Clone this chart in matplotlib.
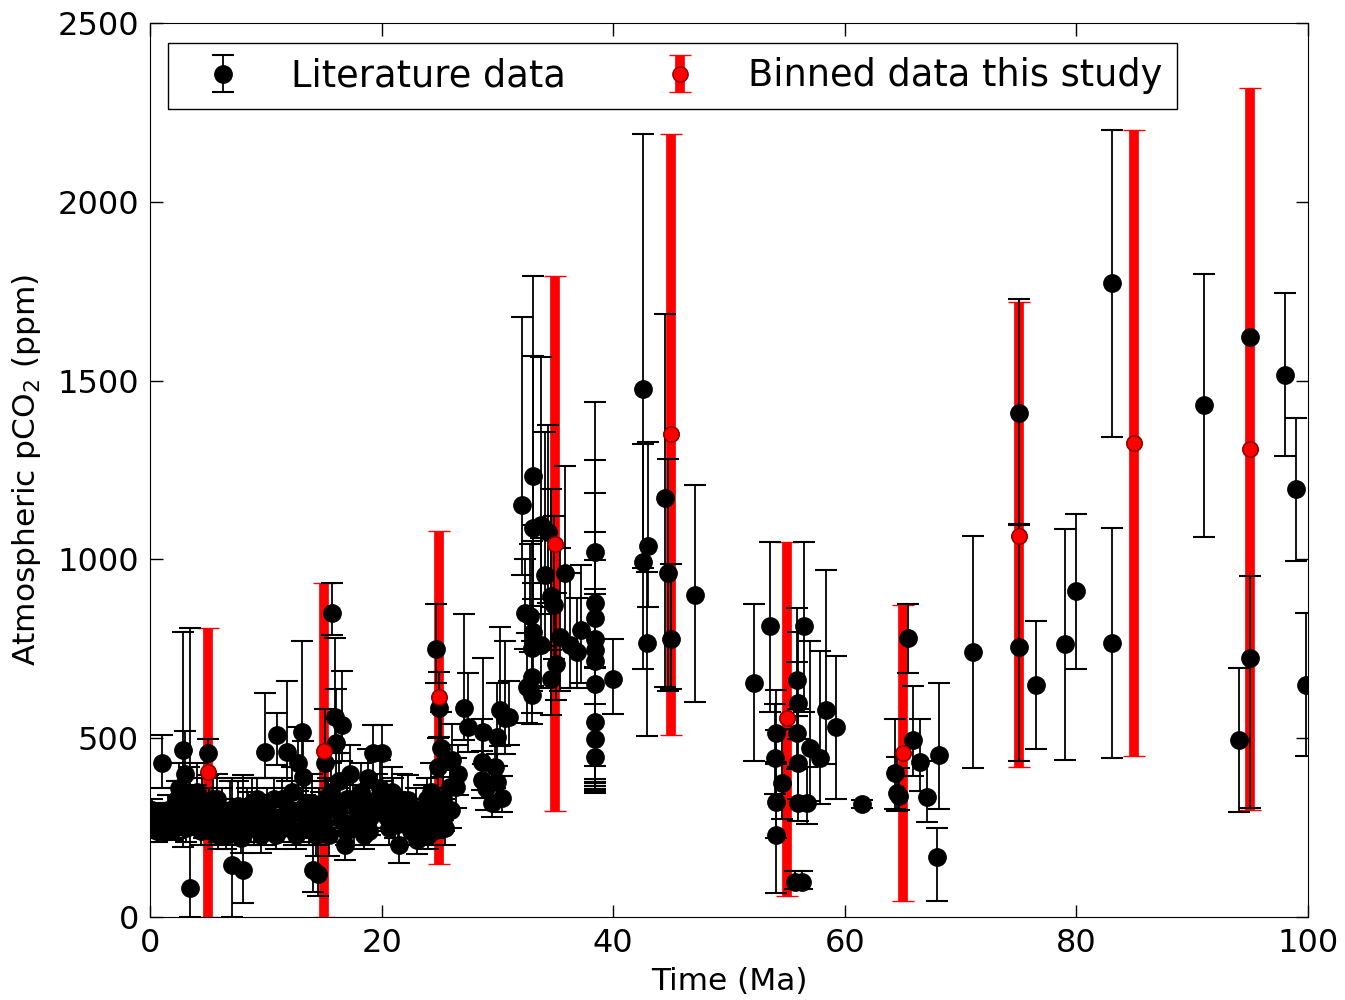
import matplotlib
matplotlib.use("Agg")
import matplotlib.pyplot as plt
import numpy as np

plt.rcParams['font.family'] = ['DejaVu Sans']

# binned data (this study)
bin_age = [5, 15, 25, 35, 45, 55, 65, 75, 85, 95]
bin_co2 = [405, 464, 615, 1043, 1351, 556, 459, 1065, 1325, 1309]
bin_lo = [405, 464, 467, 747, 842, 497, 414, 646, 875, 1010]
bin_hi = [403, 470, 465, 750, 839, 493, 414, 655, 876, 1009]

# literature compilation: age, co2, lower error, upper error
lit_age = [0.1, 0.3, 0.5, 0.7, 0.9, 1.0, 1.2, 1.4, 1.6, 1.8, 2.0, 2.2, 2.4, 2.5, 2.7,
           2.85, 3.0, 3.2, 3.4, 3.5, 3.7, 3.9, 4.1, 4.3, 4.5, 4.7, 5.0, 5.1, 5.3, 5.6,
           5.8, 6.0, 6.3, 6.6, 6.9, 7.1, 7.3, 7.6, 8.0, 8.2, 8.5, 8.8, 9.0, 9.3, 9.6,
           9.9, 10.1, 10.4, 10.7, 11.0, 11.2, 11.5, 11.8, 12.0, 12.3, 12.6, 12.8, 13.1, 13.2, 13.4,
           13.7, 14.0, 14.1, 14.5, 14.3, 14.8, 15.1, 15.3, 15.5, 15.7, 16.0, 16.1, 16.6, 16.3, 16.5,
           16.8, 17.0, 17.3, 17.6, 17.9, 18.2, 18.5, 18.8, 19.0, 19.3, 19.6, 20.0, 20.3, 20.6, 20.9,
           21.2, 21.5, 21.8, 22.3, 22.6, 23.1, 23.4, 23.7, 24.0, 24.3, 24.5, 24.7, 24.9, 25.0, 25.1,
           25.3, 25.5, 25.9, 26.1, 26.4, 27.1, 27.5, 28.7, 28.8, 28.7, 29.5, 30.0, 30.0, 30.2, 30.7,
           30.4,
           0.2, 0.6, 1.1, 1.5, 1.9, 2.3, 2.6, 3.1, 3.6, 4.0, 4.4, 4.8, 5.4, 5.9, 6.2,
           6.5, 6.8, 7.5, 7.9, 8.4, 8.7, 9.2, 9.5, 10.0, 10.5, 10.9, 11.4, 11.9, 12.4, 12.9,
           13.5, 13.9, 14.6, 15.0, 15.6, 16.2, 16.9, 17.5, 18.0, 18.4, 18.9, 19.5, 19.9, 20.5, 21.0,
           21.4, 22.0, 22.5, 23.0, 23.5, 23.9, 24.4, 24.8, 25.4, 26.0, 26.6, 29.0, 29.8, 31.0, 15.4,
           32.1, 32.4, 32.6, 32.8, 33.0, 33.0, 33.0, 33.1, 33.1, 33.1, 33.8, 33.8, 34.1, 34.4, 34.6,
           34.6, 34.9, 35.1, 35.4, 35.8, 36.3, 36.9, 37.2, 38.4, 38.4, 38.4, 38.4, 38.4, 38.4, 38.4,
           38.4, 38.4, 38.4, 40.0,
           42.6, 42.6, 42.9, 43.0, 44.5, 44.7, 45.0, 47.1,
           52.2, 53.5, 54.1, 54.0, 54.6, 54.1, 54.1, 55.9, 56.0, 55.9, 56.0, 56.5, 57.0, 57.9, 58.4,
           59.2, 56.0, 56.7, 55.7, 56.3, 61.5, 64.3, 64.5, 64.7, 65.5, 65.9, 66.5, 67.1, 68.1, 68.0,
           71.1,
           75.0, 75.0, 76.5, 79.0, 80.0, 83.1, 83.1, 91.0, 94.0, 95.0, 95.0, 98.0, 99.0, 99.8]
lit_co2 = [270, 255, 290, 260, 240, 430, 275, 250, 300, 265, 280, 250, 300, 360, 330,
           467, 400, 290, 340, 81, 300, 270, 350, 280, 320, 260, 458, 300, 240, 270,
           330, 250, 280, 230, 300, 145, 260, 310, 131, 240, 290, 320, 250, 280, 230,
           461, 300, 260, 330, 509, 280, 250, 461, 300, 350, 230, 431, 517, 392, 280,
           250, 320, 131, 120, 230, 280, 431, 300, 230, 850, 559, 487, 537, 380, 270,
           200, 330, 400, 250, 300, 350, 230, 390, 280, 459, 330, 459, 299, 250, 350,
           280, 200, 320, 327, 270, 215, 260, 300, 230, 350, 280, 749, 420, 584, 472,
           330, 250, 364, 439, 364, 584, 531, 434, 517, 383, 319, 503, 377, 579, 556,
           333,
           300, 240, 255, 275, 245, 330, 280, 250, 285, 310, 240, 290, 330, 230, 300,
           260, 240, 280, 220, 300, 250, 330, 290, 240, 280, 230, 330, 270, 240, 300,
           320, 260, 300, 260, 350, 300, 240, 330, 280, 310, 240, 300, 360, 280, 330,
           260, 280, 240, 300, 250, 330, 240, 300, 280, 300, 400, 360, 420, 560, 330,
           1152, 850, 643, 842, 752, 671, 621, 1233, 1088, 797, 1097, 761, 957, 1077, 898,
           666, 872, 707, 783, 962, 761, 741, 803, 1021, 878, 836, 777, 747, 716, 652,
           545, 498, 447, 666,
           1476, 993, 766, 1037, 1172, 962, 777, 900,
           654, 814, 514, 445, 375, 322, 229, 663, 598, 514, 431, 814, 473, 445, 579,
           531, 319, 319, 98, 98, 316, 403, 347, 338, 780, 495, 433, 336, 453, 168,
           741,
           1409, 755, 649, 763, 912, 1773, 766, 1432, 495, 1622, 724, 1516, 1197, 649]
lit_lo = [30, 25, 30, 25, 20, 70, 30, 25, 40, 25, 30, 30, 50, 60, 40,
          270, 100, 50, 60, 81, 50, 40, 60, 40, 60, 40, 60, 60, 40, 40,
          60, 40, 40, 40, 60, 145, 40, 60, 92, 40, 50, 60, 50, 50, 50,
          72, 50, 40, 50, 84, 40, 40, 80, 50, 60, 40, 80, 200, 80, 40,
          50, 60, 60, 60, 60, 60, 100, 60, 60, 61, 100, 100, 100, 60, 60,
          40, 60, 60, 50, 60, 60, 40, 60, 50, 80, 60, 80, 50, 50, 60,
          60, 50, 60, 60, 50, 40, 50, 60, 40, 60, 60, 95, 60, 80, 80,
          60, 50, 60, 80, 60, 89, 70, 80, 90, 50, 39, 80, 60, 100, 100,
          39,
          30, 30, 30, 30, 30, 40, 40, 40, 40, 50, 40, 40, 50, 40, 50,
          40, 40, 40, 40, 50, 40, 50, 40, 40, 40, 40, 50, 40, 40, 50,
          50, 40, 50, 40, 60, 50, 40, 50, 40, 50, 40, 50, 60, 40, 50,
          40, 40, 40, 50, 40, 50, 40, 50, 40, 50, 60, 60, 60, 80, 50,
          195, 100, 100, 100, 120, 100, 80, 300, 200, 150, 250, 120, 200, 200, 150,
          100, 150, 100, 150, 200, 120, 100, 150, 600, 500, 450, 400, 380, 350, 300,
          170, 140, 100, 99,
          500, 300, 260, 170, 530, 330, 140, 299,
          218, 241, 80, 100, 100, 100, 162, 100, 100, 100, 100, 241, 150, 130, 150,
          200, 50, 60, 20, 20, 10, 100, 50, 40, 98, 100, 80, 70, 150, 123,
          324,
          310, 319, 179, 324, 219, 431, 321, 369, 200, np.nan, 420, 227, 201, 200]
lit_hi = [30, 25, 30, 30, 20, 80, 30, 25, 40, 30, 40, 30, 60, 70, 50,
          330, 120, 60, 80, 727, 60, 50, 80, 50, 70, 50, 40, 60, 50, 50,
          70, 60, 50, 60, 80, 245, 50, 70, 266, 60, 60, 70, 50, 60, 60,
          165, 60, 50, 60, 61, 50, 50, 200, 60, 70, 50, 100, 255, 100, 60,
          60, 80, 80, 80, 70, 70, 150, 80, 70, 84, 221, 150, 150, 80, 60,
          50, 70, 80, 60, 70, 80, 50, 80, 60, 78, 70, 78, 60, 50, 70,
          70, 60, 80, 70, 60, 50, 60, 70, 60, 80, 70, 126, 80, 100, 100,
          80, 60, 80, 100, 80, 263, 150, 120, 207, 80, 60, 150, 80, 232, 216,
          60,
          30, 30, 30, 40, 30, 50, 50, 40, 50, 60, 40, 50, 60, 50, 60,
          50, 40, 50, 40, 60, 50, 60, 50, 50, 40, 40, 60, 50, 40, 60,
          60, 50, 60, 50, 80, 60, 50, 60, 50, 60, 50, 60, 80, 50, 60,
          50, 50, 40, 60, 50, 60, 50, 60, 50, 60, 80, 80, 80, 100, 60,
          526, 150, 150, 200, 300, 200, 150, 560, 480, 300, 470, 300, 400, 300, 300,
          200, 250, 200, 250, 300, 200, 150, 180, 420, 400, 350, 300, 250, 200, 250,
          150, 200, 150, 111,
          714, 330, 200, 291, 514, 319, 210, 308,
          221, 235, 120, 150, 150, 200, 200, 200, 200, 200, 150, 235, 300, 300, 390,
          200, 100, 100, 30, 30, 10, 150, 100, 80, 95, 150, 120, 100, 201, 80,
          324,
          320, 341, 179, 322, 215, 428, 322, 366, 201, np.nan, 230, 229, 198, 200]

fig = plt.figure(figsize=(13.45, 10), dpi=100)
ax = fig.add_axes([0.1115, 0.083, 0.861, 0.894])

rb = ax.errorbar(bin_age, bin_co2, yerr=[bin_lo, bin_hi], fmt='o', color='red',
                 ecolor='red', elinewidth=7, capsize=8, capthick=2, markersize=11,
                 markeredgecolor='#8b0000', markeredgewidth=1, zorder=1,
                 label='Binned data this study')
lb = ax.errorbar(lit_age, lit_co2, yerr=[lit_lo, lit_hi], fmt='o', color='black',
                 ecolor='black', elinewidth=1.3, capsize=8, capthick=1.5, markersize=12.5,
                 zorder=2, label='Literature data')
# red circles on top of the literature points
ax.plot(bin_age, bin_co2, 'o', color='red', markersize=11, markeredgecolor='#8b0000',
        markeredgewidth=1, zorder=3)

ax.set_xlim(0, 100)
ax.set_ylim(0, 2500)
ax.set_xticks(np.arange(0, 101, 20))
ax.set_yticks(np.arange(0, 2501, 500))
ax.tick_params(direction='in', length=9, width=1, top=True, right=True, labelsize=23, pad=8)
ax.set_xlabel('Time (Ma)', fontsize=22.5, labelpad=6)
ax.set_ylabel('Atmospheric pCO$_2$ (ppm)', fontsize=22.5, labelpad=10)

leg = ax.legend(handles=[lb, rb], loc='upper left', bbox_to_anchor=(0.0155, 0.978),
                borderaxespad=0, ncol=2, numpoints=1, fontsize=26.5, fancybox=False,
                edgecolor='black', framealpha=1, columnspacing=2.0, handletextpad=0.75,
                borderpad=0.4, handlelength=2.2)
leg.get_frame().set_linewidth(1)

fig.savefig('out.png', dpi=100)
